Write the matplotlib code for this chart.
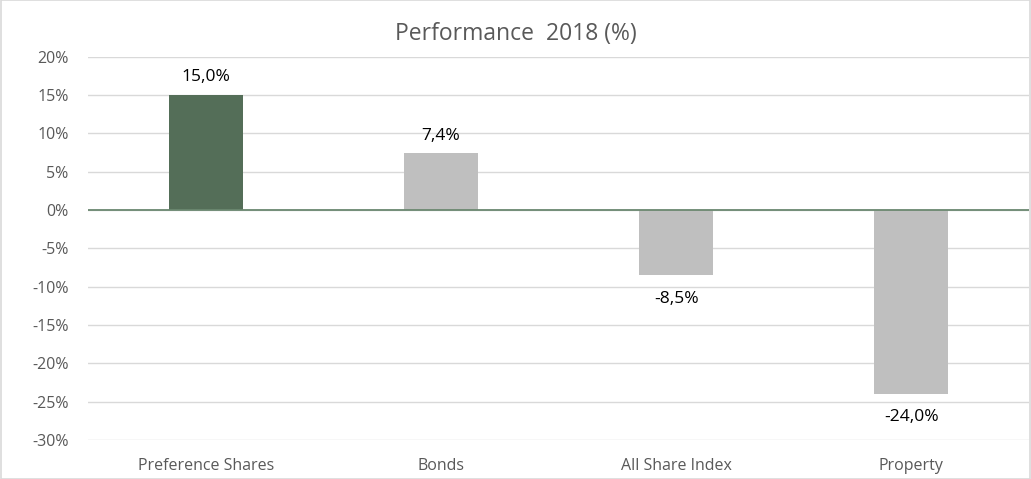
import matplotlib
matplotlib.use('Agg')
import matplotlib.pyplot as plt
from matplotlib.ticker import FuncFormatter

categories = ['Preference Shares', 'Bonds', 'All Share Index', 'Property']
values = [15.0, 7.4, -8.5, -24.0]
bar_colors = ['#546E58', '#BFBFBF', '#BFBFBF', '#BFBFBF']
y_ticks = list(range(-30, 25, 5))

plt.rcParams['font.family'] = ['Open Sans', 'DejaVu Sans']

fig = plt.figure(figsize=(10.31, 4.79), dpi=100)
ax = fig.add_axes([0.0854, 0.0814, 0.9126, 0.8])
# light frame round the whole chart
fig.patches.append(plt.Rectangle((0.001, 0.001), 0.998, 0.998, transform=fig.transFigure,
                                 fill=False, edgecolor='#D9D9D9', linewidth=1.2))

x = list(range(len(categories)))
ax.bar(x, values, width=0.315, color=bar_colors, zorder=3)
ax.set_xlim(-0.5, len(categories) - 0.5)
ax.set_ylim(-30, 20)
ax.set_yticks(y_ticks)
ax.yaxis.set_major_formatter(FuncFormatter(lambda v, p: '{:d}%'.format(int(v))))
ax.set_xticks(x)
ax.set_xticklabels(categories)
ax.grid(axis='y', color='#D9D9D9', linewidth=1, zorder=0)
ax.axhline(0, color='#6B8870', linewidth=1.3, zorder=4)
for s in ax.spines.values():
    s.set_visible(False)
ax.tick_params(axis='both', length=0, colors='#595959', labelsize=11.5)
ax.tick_params(axis='y', pad=14)
ax.tick_params(axis='x', pad=13)

for xi, v in zip(x, values):
    label = '{:.1f}%'.format(v).replace('.', ',')
    if v >= 0:
        ax.annotate(label, (xi, v), xytext=(0, 7), textcoords='offset points',
                    ha='center', va='bottom', fontsize=12.5, color='black')
    else:
        ax.annotate(label, (xi, v), xytext=(0, -11), textcoords='offset points',
                    ha='center', va='top', fontsize=12.5, color='black')

fig.suptitle('Performance  2018 (%)', y=0.955, fontsize=16.5, color='#595959')

fig.savefig('out.png', dpi=100)
